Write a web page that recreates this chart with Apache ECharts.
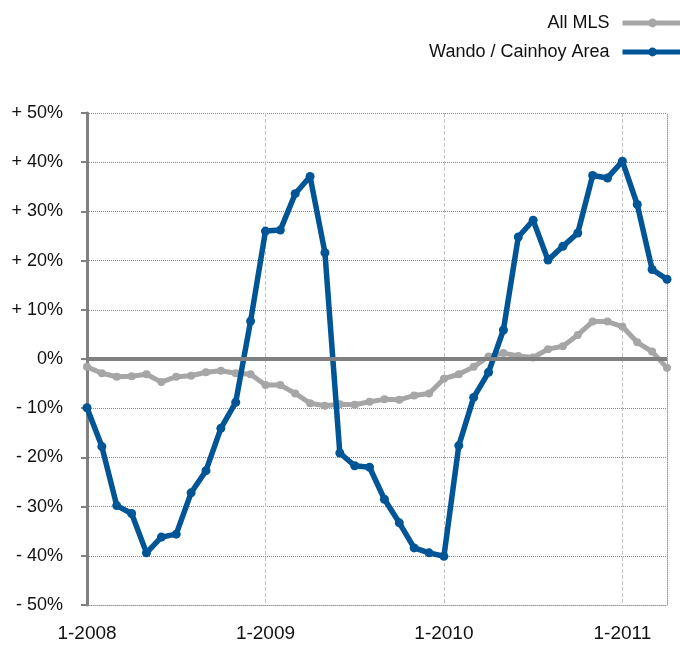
<!DOCTYPE html>
<html>
<head>
<meta charset="utf-8">
<script src="https://cdn.jsdelivr.net/npm/echarts@6/dist/echarts.min.js"></script>
<style>
  html, body { margin: 0; padding: 0; background: #fff; }
  #chart { width: 680px; height: 646px; }
</style>
</head>
<body>
<div id="chart"></div>
<script>
'use strict';

// months Jan 2008 .. Apr 2011
var months = [];
for (var y = 2008; y <= 2011; y++) {
   for (var m = 1; m <= 12; m++) {
      if (y === 2011 && m > 4) break;
      months.push(m + '-' + y);
   }
}

var allMls = [
   -1.6, -2.9, -3.6, -3.5, -3.1, -4.7, -3.6, -3.4, -2.7, -2.4, -2.9, -3.1,
   -5.3, -5.3, -7.0, -9.0, -9.5, -9.2, -9.3, -8.7, -8.2, -8.3, -7.4, -7.0,
   -4.0, -3.1, -1.6, 0.5, 1.2, 0.6, 0.3, 2.0, 2.6, 4.9, 7.6, 7.6,
   6.6, 3.4, 1.5, -1.8
];

var wando = [
   -9.9, -17.8, -29.8, -31.4, -39.4, -36.2, -35.6, -27.2, -22.7, -14.1, -8.8, 7.7,
   26.0, 26.2, 33.6, 37.1, 21.6, -19.1, -21.7, -22.0, -28.5, -33.3, -38.4, -39.4,
   -40.1, -17.6, -7.8, -2.7, 5.9, 24.8, 28.2, 20.1, 22.9, 25.6, 37.3, 36.8,
   40.2, 31.4, 18.2, 16.2
];

var seriesNames = ['All MLS', 'Wando / Cainhoy Area'];
var seriesColors = ['#a6a6a6', '#005596'];

var chart = echarts.init(document.getElementById('chart'));

function pct(v) {
   if (v > 0) return '+ ' + v + '%';
   if (v < 0) return '- ' + Math.abs(v) + '%';
   return '0%';
}

function isJan(idx) {
   return idx % 12 === 0;
}

var option = {
   animation: false,
   textStyle: { fontFamily: 'Liberation Sans, Arial, sans-serif' },
   legend: {
      orient: 'vertical',
      right: -10,
      top: 9,
      align: 'right',
      itemWidth: 60,
      itemHeight: 11,
      itemGap: 11,
      lineStyle: { width: 5 },
      textStyle: { fontSize: 18, color: '#111', padding: [0, 8, 0, 0] },
      data: seriesNames
   },
   grid: { left: 87, right: 13, top: 113, bottom: 41, containLabel: false },
   xAxis: {
      type: 'category',
      data: months,
      boundaryGap: false,
      axisLine: { onZero: false, lineStyle: { color: '#999', width: 1, type: 'dotted' } },
      axisTick: { show: false },
      axisLabel: {
         interval: function (idx) { return isJan(idx); },
         fontSize: 19, color: '#111', margin: 19
      },
      splitLine: {
         show: true,
         interval: function (idx) { return isJan(idx); },
         lineStyle: { color: '#c4c4c4', type: 'dashed', width: 1 }
      }
   },
   yAxis: [{
      type: 'value',
      min: -50,
      max: 50,
      interval: 10,
      axisLine: { show: true, lineStyle: { color: '#808080', width: 3 } },
      axisTick: { show: true, length: 6, lineStyle: { color: '#808080', width: 2 } },
      axisLabel: { formatter: pct, fontSize: 18, color: '#111', margin: 24 },
      splitLine: { lineStyle: { color: '#8a8a8a', type: 'dotted', width: 1 } }
   }, {
      type: 'value',
      position: 'right',
      min: -50,
      max: 50,
      interval: 10,
      axisLine: { show: true, lineStyle: { color: '#999', width: 1, type: 'dotted' } },
      axisTick: { show: false },
      axisLabel: { show: false },
      splitLine: { show: false }
   }],
   series: [{
      name: seriesNames[0],
      type: 'line',
      data: allMls,
      color: seriesColors[0],
      symbol: 'circle',
      symbolSize: 8,
      lineStyle: { width: 5 },
      z: 3,
      markLine: {
         silent: true,
         symbol: ['none', 'none'],
         label: { show: false },
         lineStyle: { color: '#808080', width: 4, type: 'solid' },
         data: [{ yAxis: 0 }]
      }
   }, {
      name: seriesNames[1],
      type: 'line',
      data: wando,
      color: seriesColors[1],
      symbol: 'circle',
      symbolSize: 9,
      lineStyle: { width: 5.5 },
      z: 4
   }]
};

chart.setOption(option);
</script>
</body>
</html>
